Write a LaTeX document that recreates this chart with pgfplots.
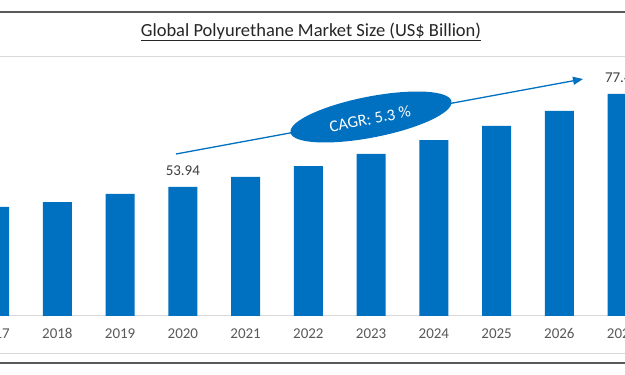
\documentclass[border=0pt]{standalone}
\usepackage{pgfplots}
\pgfplotsset{compat=1.18}
\usepackage{fontspec}
\setmainfont{Carlito}
\usetikzlibrary{arrows.meta}
\definecolor{barblue}{HTML}{0070C0}
\definecolor{ticklab}{HTML}{595959}
\definecolor{datalab}{HTML}{404040}
\definecolor{frame}{HTML}{595959}
\definecolor{lightln}{HTML}{D9D9D9}
\begin{document}
\begin{tikzpicture}[x=1pt,y=1pt]
\useasboundingbox (0,0) rectangle (625,375);
\clip (0,0) rectangle (625,375);
\fill[white] (0,0) rectangle (625,375);
% frame lines
\draw[frame, line width=2.6pt] (0,363) -- (625,363);
\draw[lightln, line width=1pt] (0,318) -- (625,318);
\draw[lightln, line width=1pt] (0,21) -- (625,21);
\draw[frame, line width=2.4pt] (0,12) -- (625,12);
% title
\node[font=\fontsize{18.5}{22}\selectfont, text=black!85] at (311,343) {\underline{Global Polyurethane Market Size (US\$ Billion)}};
\begin{axis}[
  at={(-10pt,59pt)}, anchor=south west,
  width=635pt, height=256pt, scale only axis,
  xmin=-0.0734, xmax=10.046, ymin=21.3, ymax=86.07,
  axis y line=none,
  axis x line*=bottom,
  x axis line style={draw=lightln, line width=1pt, -},
  xtick={0,...,10},
  xticklabels={2017,2018,2019,2020,2021,2022,2023,2024,2025,2026,2027},
  major tick length=0pt,
  xticklabel style={font=\fontsize{15}{17}\selectfont, text=ticklab, anchor=base, yshift=-23pt, inner sep=0pt},
  /pgf/number format/assume math mode=true,
  clip=true,
]
\addplot[ybar, bar width=29pt, fill=barblue, draw=none] coordinates {
  (0,48.9) (1,50.1) (2,52.2) (3,53.94) (4,56.5) (5,59.25)
  (6,62.3) (7,65.8) (8,69.4) (9,73.2) (10,77.47)
};
\addplot[draw=none, mark=none, nodes near coords, point meta=y,
  every node near coord/.append style={font=\fontsize{15}{17}\selectfont, text=datalab, anchor=base, yshift=11pt, inner sep=0pt,
  /pgf/number format/.cd, fixed, fixed zerofill, precision=2}] coordinates {(3,53.94) (10,77.47)};
\end{axis}
% CAGR arrow and ellipse
\draw[barblue, line width=1.3pt, -{Triangle[length=10pt,width=8pt]}] (176,221) -- (583,296);
\fill[barblue, rotate around={11:(371,258)}] (371,258) ellipse [x radius=82, y radius=20.5];
\node[text=white, rotate=11, font=\fontsize{16.5}{19}\selectfont] at (370,256) {CAGR: 5.3 \%};
\end{tikzpicture}
\end{document}
